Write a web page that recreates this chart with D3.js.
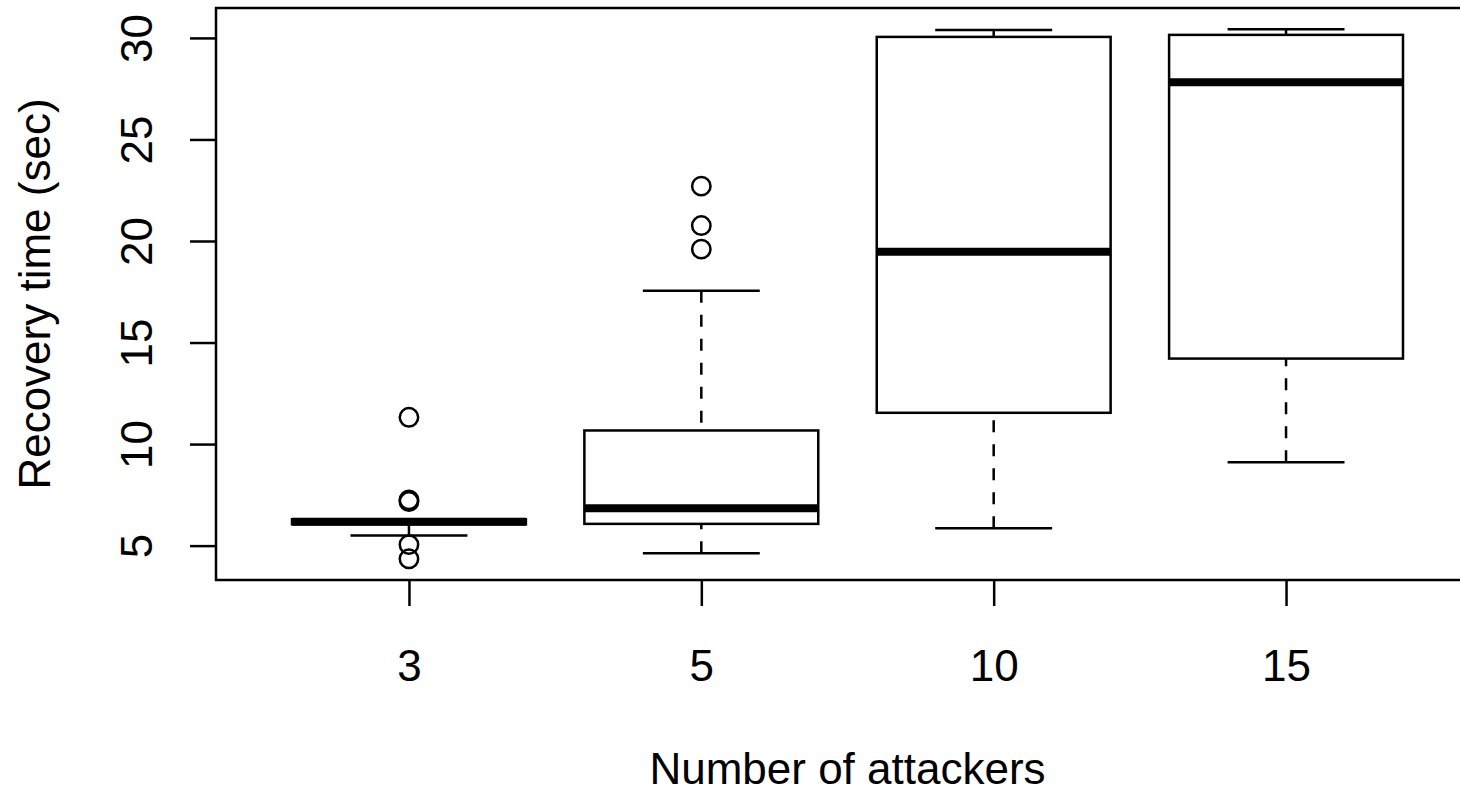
<!DOCTYPE html>
<html>
<head>
<meta charset="utf-8">
<script src="https://cdn.jsdelivr.net/npm/d3@7"></script>
<style>
  body { margin: 0; background: #fff; }
  text { font-family: "Liberation Sans", Arial, Helvetica, sans-serif; fill: #000; }
</style>
</head>
<body>
<script>
// boxplot stats per group
const categories = ["3", "5", "10", "15"];
const lowerWhisker = [5.5, 4.62, 5.85, 9.1];
const q1 = [6.05, 6.07, 11.54, 14.21];
const median = [6.17, 6.84, 19.47, 27.82];
const q3 = [6.3, 10.67, 30.05, 30.15];
const upperWhisker = [6.3, 17.55, 30.39, 30.43];
const outliers = [[11.32, 7.25, 7.17, 5.05, 4.35], [22.7, 20.76, 19.6], [], []];
const yTicks = [5, 10, 15, 20, 25, 30];

const width = 1460, height = 788;
const plotLeft = 216, plotRight = 1479, plotTop = 8, plotBottom = 580;

const svg = d3.select("body").append("svg")
    .attr("width", width)
    .attr("height", height);

// R style: xlim = [0.5, n+0.5] then 4% extension
const n = categories.length;
const x = d3.scaleLinear()
    .domain([0.5 - 0.04 * n, n + 0.5 + 0.04 * n])
    .range([plotLeft, plotRight]);

let allVals = lowerWhisker.concat(upperWhisker, d3.merge(outliers));
let lo = d3.min(allVals), hi = d3.max(allVals);
let pad = (hi - lo) * 0.04;
const y = d3.scaleLinear()
    .domain([lo - pad, hi + pad])
    .range([plotBottom, plotTop]);

const boxW = (x(2) - x(1)) * 0.8;
const stapleW = boxW / 2;

const groups = categories.map(function(c, i) {
    return { cat: c, pos: i + 1, lw: lowerWhisker[i], q1: q1[i], med: median[i],
             q3: q3[i], uw: upperWhisker[i], out: outliers[i] };
});

const g = svg.selectAll(".box")
    .data(groups)
    .enter()
    .append("g")
    .attr("class", "box");

// dashed whiskers, drawn from whisker end toward the box
g.append("line")
    .attr("x1", d => x(d.pos)).attr("x2", d => x(d.pos))
    .attr("y1", d => y(d.lw)).attr("y2", d => y(d.q1))
    .attr("stroke", "#000").attr("stroke-width", 2.5)
    .attr("stroke-dasharray", "12,12");
g.append("line")
    .attr("x1", d => x(d.pos)).attr("x2", d => x(d.pos))
    .attr("y1", d => y(d.uw)).attr("y2", d => y(d.q3))
    .attr("stroke", "#000").attr("stroke-width", 2.5)
    .attr("stroke-dasharray", "12,12");

// staples
g.append("line")
    .attr("x1", d => x(d.pos) - stapleW / 2).attr("x2", d => x(d.pos) + stapleW / 2)
    .attr("y1", d => y(d.lw)).attr("y2", d => y(d.lw))
    .attr("stroke", "#000").attr("stroke-width", 2.5);
g.append("line")
    .attr("x1", d => x(d.pos) - stapleW / 2).attr("x2", d => x(d.pos) + stapleW / 2)
    .attr("y1", d => y(d.uw)).attr("y2", d => y(d.uw))
    .attr("stroke", "#000").attr("stroke-width", 2.5);

// box
g.append("rect")
    .attr("x", d => x(d.pos) - boxW / 2)
    .attr("width", boxW)
    .attr("y", d => y(d.q3))
    .attr("height", d => y(d.q1) - y(d.q3))
    .attr("fill", "#fff")
    .attr("stroke", "#000").attr("stroke-width", 2.5);

// median
g.append("line")
    .attr("x1", d => x(d.pos) - boxW / 2).attr("x2", d => x(d.pos) + boxW / 2)
    .attr("y1", d => y(d.med)).attr("y2", d => y(d.med))
    .attr("stroke", "#000").attr("stroke-width", 8);

// outliers
g.selectAll("circle")
    .data(d => d.out.map(v => ({ pos: d.pos, v: v })))
    .enter()
    .append("circle")
    .attr("cx", d => x(d.pos))
    .attr("cy", d => y(d.v))
    .attr("r", 9.2)
    .attr("fill", "none")
    .attr("stroke", "#000").attr("stroke-width", 2.5);

// frame
svg.append("rect")
    .attr("x", plotLeft).attr("y", plotTop)
    .attr("width", plotRight - plotLeft).attr("height", plotBottom - plotTop)
    .attr("fill", "none")
    .attr("stroke", "#000").attr("stroke-width", 2.5);

// y axis
const yAxis = svg.append("g")
    .attr("transform", "translate(" + plotLeft + ",0)")
    .call(d3.axisLeft(y).tickValues(yTicks).tickSize(26).tickSizeOuter(0));
yAxis.select(".domain").remove();
yAxis.selectAll("line").attr("stroke", "#000").attr("stroke-width", 2.5);
yAxis.selectAll("text")
    .attr("x", null).attr("dy", null)
    .attr("transform", "translate(" + (152 - plotLeft) + ",0) rotate(-90)")
    .attr("text-anchor", "middle")
    .style("font-size", "44px")
    .style("font-family", "'Liberation Sans', Arial, sans-serif");

// x axis
const xAxis = svg.append("g")
    .attr("transform", "translate(0," + plotBottom + ")")
    .call(d3.axisBottom(x).tickValues(d3.range(1, n + 1))
        .tickFormat(d => categories[d - 1]).tickSize(26).tickSizeOuter(0));
xAxis.select(".domain").remove();
xAxis.selectAll("line").attr("stroke", "#000").attr("stroke-width", 2.5);
xAxis.selectAll("text")
    .attr("y", 681 - plotBottom).attr("dy", null)
    .style("font-size", "44px")
    .style("font-family", "'Liberation Sans', Arial, sans-serif");

// axis titles
svg.append("text")
    .attr("x", (plotLeft + plotRight) / 2)
    .attr("y", 784)
    .attr("text-anchor", "middle")
    .style("font-size", "44px")
    .text("Number of attackers");

svg.append("text")
    .attr("transform", "translate(50," + (plotTop + plotBottom) / 2 + ") rotate(-90)")
    .attr("text-anchor", "middle")
    .style("font-size", "44px")
    .text("Recovery time (sec)");
</script>
</body>
</html>
